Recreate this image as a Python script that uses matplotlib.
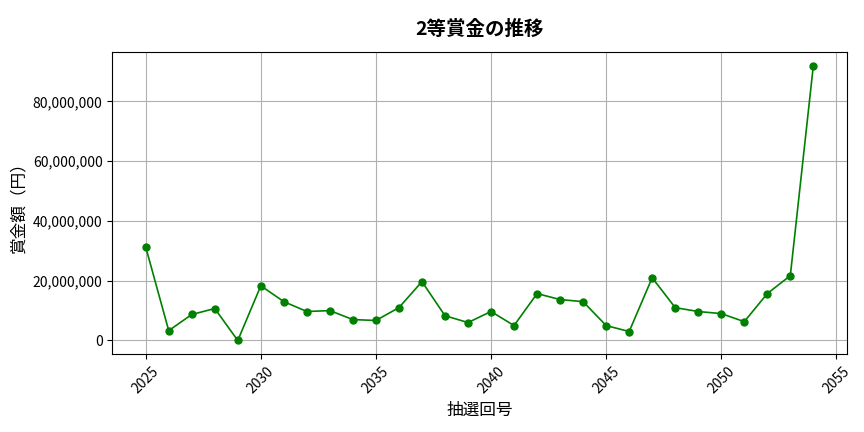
import matplotlib
matplotlib.use("Agg")
import matplotlib.pyplot as plt
from matplotlib.ticker import FuncFormatter

plt.rcParams['font.family'] = ['Noto Sans CJK JP', 'DejaVu Sans']

draws = list(range(2025, 2055))
prizes = [31.3, 3.3, 8.7, 10.7, 0.0, 18.3, 13.0, 9.7, 10.0, 7.0,
          6.7, 11.0, 19.7, 8.3, 6.0, 9.7, 5.0, 15.7, 13.7, 13.0,
          5.0, 3.0, 21.0, 11.0, 9.7, 9.0, 6.3, 15.7, 21.7, 92.0]
prizes = [p * 1e6 for p in prizes]

fig, ax = plt.subplots(figsize=(8.64, 4.32), dpi=100)
ax.plot(draws, prizes, marker='o', color='green', markersize=5, linewidth=1.2)
ax.set_title('2等賞金の推移', fontsize=14, fontweight='bold', pad=12)
ax.set_xlabel('抽選回号', fontsize=12)
ax.set_ylabel('賞金額（円）', fontsize=12)
ax.yaxis.set_major_formatter(FuncFormatter(lambda v, p: f'{int(v):,}'))
ax.tick_params(axis='x', labelrotation=45)
ax.grid(True, color='#b0b0b0', linewidth=0.8)
fig.subplots_adjust(left=0.13, right=0.98, top=0.88, bottom=0.18)
fig.savefig('out.png')
